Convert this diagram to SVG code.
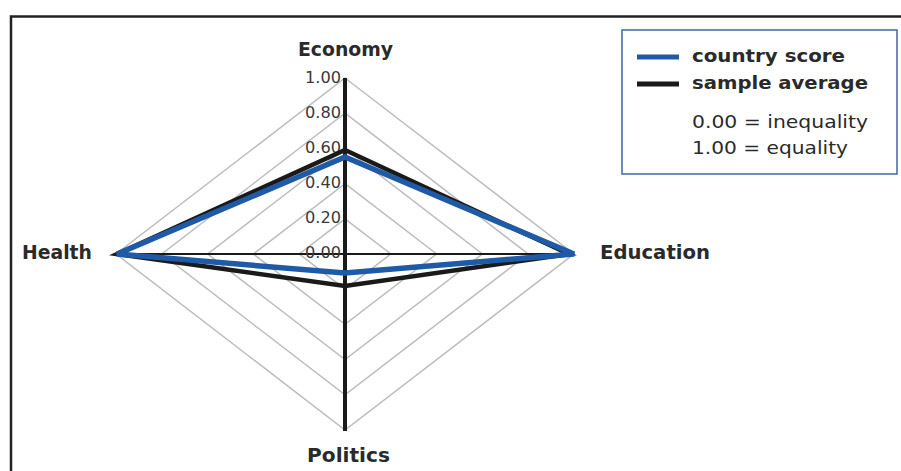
<svg xmlns="http://www.w3.org/2000/svg" width="901" height="471" viewBox="0 0 901 471">
<style>
.grid{fill:none;stroke:#bdbdbd;stroke-width:1.5}
.axis{stroke:#1a1a1a;fill:none}
.tick{font-family:"DejaVu Sans","Liberation Sans",sans-serif;font-size:16px;fill:#3a3a3a;text-anchor:end}
.lab{font-family:"DejaVu Sans","Liberation Sans",sans-serif;font-size:19px;font-weight:bold;fill:#2a2a2a}
.leg{font-family:"DejaVu Sans","Liberation Sans",sans-serif;font-size:18px;fill:#2a2a2a}
.series-blue{fill:none;stroke:#1f5aa6;stroke-width:5.5;stroke-linejoin:miter}
.series-black{fill:none;stroke:#1a1a1a;stroke-width:4.5;stroke-linejoin:miter}
</style>
<rect width="901" height="471" fill="#ffffff"/>
<path d="M11 471 V16.5 H901" fill="none" stroke="#222" stroke-width="2.5"/>
<g id="grid">
<polygon class="grid" points="345,218.8 390.8,254 345,289.2 299.2,254"/>
<polygon class="grid" points="345,183.6 436.6,254 345,324.4 253.4,254"/>
<polygon class="grid" points="345,148.4 482.4,254 345,359.6 207.6,254"/>
<polygon class="grid" points="345,113.2 528.2,254 345,394.8 161.8,254"/>
<polygon class="grid" points="345,78 574,254 345,430 116,254"/>
</g>
<g id="axes">
<line class="axis" x1="116" y1="254" x2="574" y2="254" stroke-width="2"/>
<line class="axis" x1="345" y1="78" x2="345" y2="431" stroke-width="4"/>
</g>
<g id="ticks">
<text class="tick" x="341" y="83" textLength="36" lengthAdjust="spacingAndGlyphs">1.00</text>
<text class="tick" x="341" y="118" textLength="36" lengthAdjust="spacingAndGlyphs">0.80</text>
<text class="tick" x="341" y="153" textLength="36" lengthAdjust="spacingAndGlyphs">0.60</text>
<text class="tick" x="341" y="188" textLength="36" lengthAdjust="spacingAndGlyphs">0.40</text>
<text class="tick" x="341" y="223" textLength="36" lengthAdjust="spacingAndGlyphs">0.20</text>
<text class="tick" x="341" y="258" textLength="36" lengthAdjust="spacingAndGlyphs">0.00</text>
</g>
<g id="connectors">
<polygon id="sample-average" class="series-black" points="345,150 569,254 345,286 117,254"/>
<polygon id="country-score" class="series-blue" points="345,157 574,254 345,273 117,254"/>
</g>
<g id="node-economy"><text class="lab" x="298" y="56" textLength="95" lengthAdjust="spacingAndGlyphs">Economy</text></g>
<g id="node-health"><text class="lab" x="22" y="259" textLength="70" lengthAdjust="spacingAndGlyphs">Health</text></g>
<g id="node-education"><text class="lab" x="600" y="259" textLength="110" lengthAdjust="spacingAndGlyphs">Education</text></g>
<g id="node-politics"><text class="lab" x="307" y="462" textLength="83" lengthAdjust="spacingAndGlyphs">Politics</text></g>
<g id="legend">
<rect x="622" y="30" width="275" height="144" fill="#fff" stroke="#3a6aa3" stroke-width="1.5"/>
<line x1="637" y1="57" x2="679" y2="57" stroke="#1f5aa6" stroke-width="5"/>
<line x1="637" y1="84" x2="679" y2="84" stroke="#1a1a1a" stroke-width="5"/>
<text class="leg" x="692" y="62" font-weight="bold" textLength="153" lengthAdjust="spacingAndGlyphs">country score</text>
<text class="leg" x="692" y="89" font-weight="bold" textLength="176" lengthAdjust="spacingAndGlyphs">sample average</text>
<text class="leg" x="692" y="128" textLength="176" lengthAdjust="spacingAndGlyphs">0.00 = inequality</text>
<text class="leg" x="692" y="154" textLength="156" lengthAdjust="spacingAndGlyphs">1.00 = equality</text>
</g>
</svg>
